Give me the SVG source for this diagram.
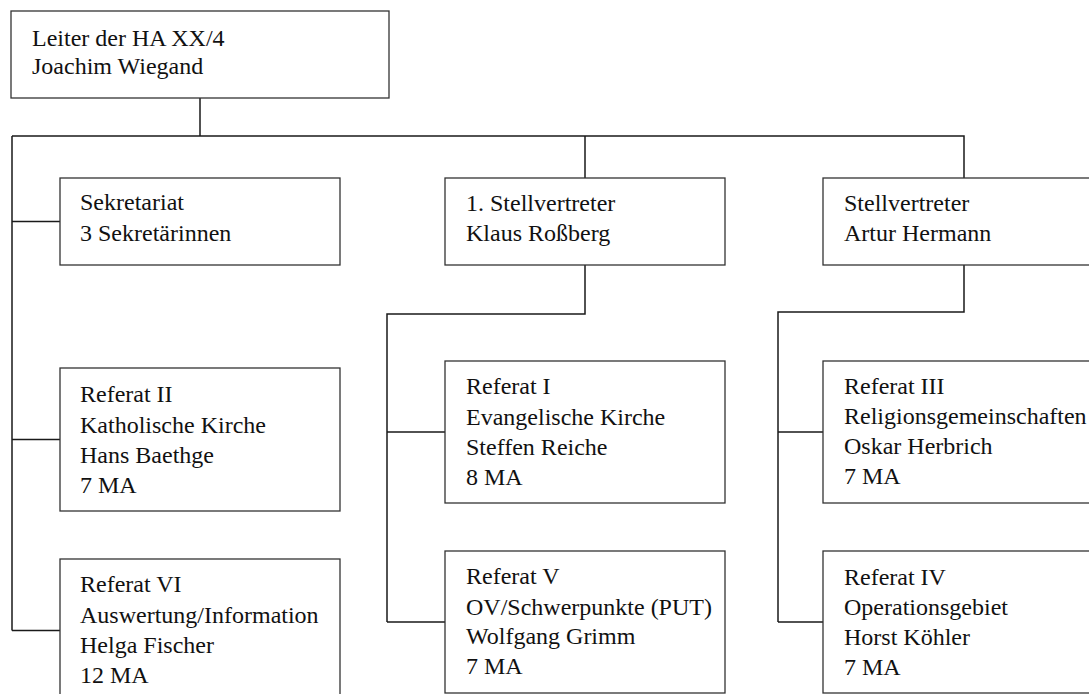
<svg xmlns="http://www.w3.org/2000/svg" width="1089" height="694" viewBox="0 0 1089 694">
<style>
.box{fill:#fff;stroke:#333;stroke-width:1.3}
.c{fill:none;stroke:#1a1a1a;stroke-width:1.5}
.t{font-family:'Liberation Serif',serif;font-size:24px;fill:#111}
</style>
<rect width="1089" height="694" fill="#fff"/>
<g id="connectors">
<path class="c" d="M200,98 V136 M12,136 H964 V178 M585,136 V178 M12,136 V630.5 M12,221.5 H60 M12,439.5 H60 M12,630.5 H60"/>
<path class="c" d="M585,265 V314 H387 V622 M387,432 H445 M387,622 H445"/>
<path class="c" d="M964,265 V312 H778 V622 M778,432 H823 M778,622 H823"/>
</g>
<g id="leiter"><rect class="box" x="11" y="11" width="378" height="87"/><text class="t" x="32" y="45.5">Leiter der HA XX/4</text><text class="t" x="32" y="74">Joachim Wiegand</text></g>
<g id="sekretariat"><rect class="box" x="60" y="178" width="280" height="87"/><text class="t" x="80" y="210">Sekretariat</text><text class="t" x="80" y="241">3 Sekretärinnen</text></g>
<g id="stellv1"><rect class="box" x="445" y="178" width="280" height="87"/><text class="t" x="466" y="210.5">1. Stellvertreter</text><text class="t" x="466" y="241">Klaus Roßberg</text></g>
<g id="stellv2"><rect class="box" x="823" y="178" width="280" height="87"/><text class="t" x="844" y="210.5">Stellvertreter</text><text class="t" x="844" y="240.5">Artur Hermann</text></g>
<g id="ref2"><rect class="box" x="60" y="368" width="280" height="143"/><text class="t" x="80" y="402">Referat II</text><text class="t" x="80" y="432.5">Katholische Kirche</text><text class="t" x="80" y="463">Hans Baethge</text><text class="t" x="80" y="493">7 MA</text></g>
<g id="ref6"><rect class="box" x="60" y="559" width="280" height="143"/><text class="t" x="80" y="592">Referat VI</text><text class="t" x="80" y="623">Auswertung/Information</text><text class="t" x="80" y="653">Helga Fischer</text><text class="t" x="80" y="683">12 MA</text></g>
<g id="ref1"><rect class="box" x="445" y="361" width="280" height="142"/><text class="t" x="466" y="393.5">Referat I</text><text class="t" x="466" y="424.5">Evangelische Kirche</text><text class="t" x="466" y="454.5">Steffen Reiche</text><text class="t" x="466" y="484.5">8 MA</text></g>
<g id="ref5"><rect class="box" x="445" y="551" width="280" height="142"/><text class="t" x="466" y="584">Referat V</text><text class="t" x="466" y="614.5">OV/Schwerpunkte (PUT)</text><text class="t" x="466" y="644">Wolfgang Grimm</text><text class="t" x="466" y="674">7 MA</text></g>
<g id="ref3"><rect class="box" x="823" y="361" width="280" height="142"/><text class="t" x="844" y="393.5">Referat III</text><text class="t" x="844" y="423.5">Religionsgemeinschaften</text><text class="t" x="844" y="453.5">Oskar Herbrich</text><text class="t" x="844" y="484">7 MA</text></g>
<g id="ref4"><rect class="box" x="823" y="551" width="280" height="142"/><text class="t" x="844" y="585">Referat IV</text><text class="t" x="844" y="614.5">Operationsgebiet</text><text class="t" x="844" y="644.5">Horst Köhler</text><text class="t" x="844" y="674.5">7 MA</text></g>
</svg>
